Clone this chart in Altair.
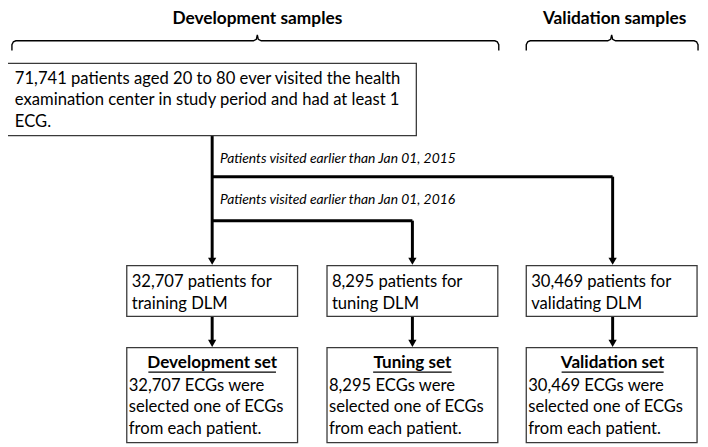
import altair as alt
import pandas as pd

# ---------------- text content ----------------
group_titles = ["Development samples", "Validation samples"]
source_lines = [
    "71,741 patients aged 20 to 80 ever visited the health",
    "examination center in study period and had at least 1",
    "ECG.",
]
split_labels = [
    "Patients visited earlier than Jan 01, 2015",
    "Patients visited earlier than Jan 01, 2016",
]
patient_lines = [
    ["32,707 patients for", "training DLM"],
    ["8,295 patients for", "tuning DLM"],
    ["30,469 patients for", "validating DLM"],
]
set_titles = ["Development set", "Tuning set", "Validation set"]
set_lines = [
    ["32,707 ECGs were", "selected one of ECGs", "from each patient."],
    ["8,295 ECGs were", "selected one of ECGs", "from each patient."],
    ["30,469 ECGs were", "selected one of ECGs", "from each patient."],
]

# ---------------- layout (diagram geometry) ----------------
col_left = [124, 328, 531]
col_right = [298, 502, 705]
col_mid = [211, 415, 619]
underline_half = [65, 40, 52]
title_x = [257, 621]
brace_left = [7, 531]
brace_right = [503, 706]
src_box = (2, 419, 57, 131)
mid_box_y = (264, 316)
bot_box_y = (348, 445)
split_y = [173, 218]
label_y = [159, 201]
FONT = "Lato"

# ---------------- tables ----------------
rect_rows = [dict(x=src_box[0], x2=src_box[1], y=src_box[2], y2=src_box[3])]
for i in range(3):
    rect_rows.append(dict(x=col_left[i], x2=col_right[i], y=mid_box_y[0], y2=mid_box_y[1]))
    rect_rows.append(dict(x=col_left[i], x2=col_right[i], y=bot_box_y[0], y2=bot_box_y[1]))
rects = pd.DataFrame(rect_rows)

seg_rows = [
    dict(x=col_mid[0], x2=col_mid[0], y=src_box[3], y2=mid_box_y[0] - 5),
    dict(x=col_mid[0], x2=col_mid[2], y=split_y[0], y2=split_y[0]),
    dict(x=col_mid[2], x2=col_mid[2], y=split_y[0], y2=mid_box_y[0] - 5),
    dict(x=col_mid[0], x2=col_mid[1], y=split_y[1], y2=split_y[1]),
    dict(x=col_mid[1], x2=col_mid[1], y=split_y[1], y2=mid_box_y[0] - 5),
]
for i in range(3):
    seg_rows.append(dict(x=col_mid[i], x2=col_mid[i], y=mid_box_y[1], y2=bot_box_y[0] - 5))
segs = pd.DataFrame(seg_rows)

heads = pd.DataFrame(
    [dict(x=col_mid[i], y=mid_box_y[0] - 4.5) for i in range(3)]
    + [dict(x=col_mid[i], y=bot_box_y[0] - 4.5) for i in range(3)]
)

brace_rows = []
brace_mid = [257, 618]
for b in range(2):
    L, R, C = brace_left[b], brace_right[b], brace_mid[b]
    pts = [(L, 44), (L, 38), (L + 1.5, 35), (L + 4, 34), (C - 4, 34), (C - 1, 32.5),
           (C, 28), (C + 1, 32.5), (C + 4, 34), (R - 4, 34), (R - 1.5, 35), (R, 38), (R, 44)]
    for k, (px, py) in enumerate(pts):
        brace_rows.append(dict(b=b, k=k, x=px, y=py))
braces = pd.DataFrame(brace_rows)

title_df = pd.DataFrame([dict(x=title_x[i], y=17, t=group_titles[i]) for i in range(2)])

body_rows = []
for j, line in enumerate(source_lines):
    body_rows.append(dict(x=10, y=78 + 22 * j, t=line))
for i in range(3):
    for j, line in enumerate(patient_lines[i]):
        body_rows.append(dict(x=col_left[i] + 5, y=286 + 22 * j, t=line))
    for j, line in enumerate(set_lines[i]):
        body_rows.append(dict(x=col_left[i] + 2, y=392 + 22 * j, t=line))
body_df = pd.DataFrame(body_rows)

label_df = pd.DataFrame([dict(x=col_mid[0] + 8, y=label_y[i], t=split_labels[i]) for i in range(2)])
set_title_df = pd.DataFrame([dict(x=col_mid[i], y=369, t=set_titles[i]) for i in range(3)])
underline_df = pd.DataFrame(
    [dict(x=col_mid[i] - underline_half[i], x2=col_mid[i] + underline_half[i], y=373, y2=373) for i in range(3)]
)

# ---------------- scales ----------------
xs = alt.Scale(domain=[3, 708], nice=False, zero=False)
ys = alt.Scale(domain=[3, 447], nice=False, zero=False, reverse=True)
X = lambda f="x": alt.X(f"{f}:Q", scale=xs, axis=None)
Y = lambda f="y": alt.Y(f"{f}:Q", scale=ys, axis=None)

box_layer = alt.Chart(rects).mark_rect(fill="white", stroke="#3a3a3a", strokeWidth=1.3).encode(
    x=X(), x2="x2:Q", y=Y(), y2="y2:Q")
seg_layer = alt.Chart(segs).mark_rule(color="black", strokeWidth=3).encode(
    x=X(), x2="x2:Q", y=Y(), y2="y2:Q")
head_layer = alt.Chart(heads).mark_point(shape="triangle-down", filled=True, color="black",
                                        size=70, opacity=1).encode(x=X(), y=Y())
brace_layer = alt.Chart(braces).mark_line(color="black", strokeWidth=1.4).encode(
    x=X(), y=Y(), detail="b:N", order="k:Q")
title_layer = alt.Chart(title_df).mark_text(font=FONT, fontSize=17.5, fontWeight="bold",
                                            align="center", baseline="alphabetic", color="black").encode(
    x=X(), y=Y(), text="t:N")
body_layer = alt.Chart(body_df).mark_text(font=FONT, fontSize=16.8, align="left",
                                          baseline="alphabetic", color="black").encode(
    x=X(), y=Y(), text="t:N")
label_layer = alt.Chart(label_df).mark_text(font=FONT, fontSize=14, fontStyle="italic", align="left",
                                            baseline="alphabetic", color="black").encode(
    x=X(), y=Y(), text="t:N")
set_title_layer = alt.Chart(set_title_df).mark_text(font=FONT, fontSize=17.3, fontWeight="bold",
                                                    align="center", baseline="alphabetic",
                                                    color="black").encode(x=X(), y=Y(), text="t:N")
underline_layer = alt.Chart(underline_df).mark_rule(color="black", strokeWidth=1.2).encode(
    x=X(), x2="x2:Q", y=Y(), y2="y2:Q")

chart = alt.layer(
    brace_layer, seg_layer, box_layer, head_layer, title_layer, body_layer,
    label_layer, set_title_layer, underline_layer
).properties(
    width=700, height=439, padding=0, autosize=alt.AutoSizeParams(type="none")
).configure_view(stroke=None)

chart.save("out.html", embed_options={"renderer": "svg", "actions": False})
